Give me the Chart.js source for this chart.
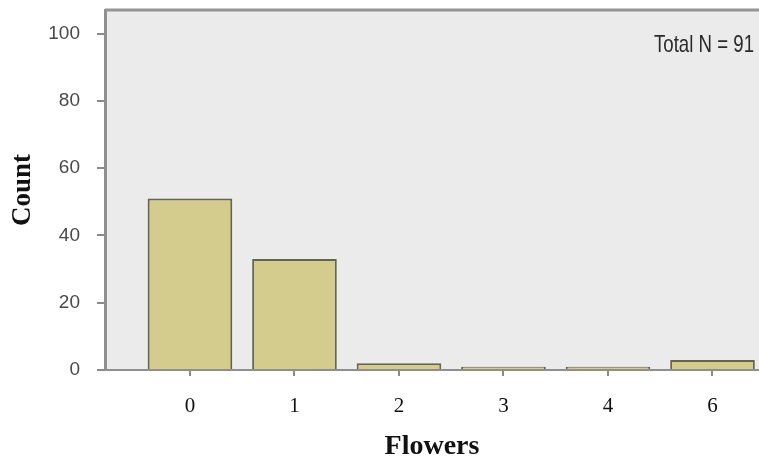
<!DOCTYPE html>
<html>
<head>
<meta charset="utf-8">
<script src="https://cdn.jsdelivr.net/npm/chart.js@4/dist/chart.umd.min.js"></script>
<style>
  html, body { margin: 0; padding: 0; background: #fff; overflow: hidden; }
  canvas { display: block; }
</style>
</head>
<body>
<canvas id="chart" width="759" height="461"></canvas>
<script>
// ---------------------------------------------------------------------------
// Data
// ---------------------------------------------------------------------------
const categories = ['0', '1', '2', '3', '4', '6'];
const counts = [51, 33, 2, 1, 1, 3];
const yTicks = [0, 20, 40, 60, 80, 100];
const totalLabel = 'Total N = 91';

// ---------------------------------------------------------------------------
// Plot frame: grey panel, top rule, "Total N" note
// ---------------------------------------------------------------------------
const framePlugin = {
  id: 'frame',
  beforeDraw(chart) {
    const { ctx, chartArea: a } = chart;
    ctx.save();
    ctx.fillStyle = '#ebebeb';
    ctx.fillRect(a.left, a.top, a.right - a.left, a.bottom - a.top);
    ctx.restore();
  },
  afterDraw(chart) {
    const { ctx, chartArea: a } = chart;
    ctx.save();
    ctx.strokeStyle = '#959595';
    ctx.lineWidth = 3;
    ctx.beginPath();
    ctx.moveTo(a.left, a.top);
    ctx.lineTo(a.right, a.top);
    ctx.stroke();

    // narrow annotation, squeezed like the original
    ctx.font = '24px "Liberation Sans Narrow", "Liberation Sans", sans-serif';
    ctx.fillStyle = '#2a2a2a';
    ctx.textBaseline = 'middle';
    ctx.textAlign = 'left';
    const w = ctx.measureText(totalLabel).width;
    const target = 100;
    ctx.translate(654, 45);
    ctx.scale(target / w, 1);
    ctx.fillText(totalLabel, 0, 0);
    ctx.restore();
  },
};

// ---------------------------------------------------------------------------
// Chart
// ---------------------------------------------------------------------------
new Chart(document.getElementById('chart'), {
  type: 'bar',
  data: {
    datasets: [{
      data: categories.map((c, i) => ({ x: i, y: counts[i] })),
      backgroundColor: '#d3cc8d',
      borderColor: '#66644a',
      borderWidth: 2,
      categoryPercentage: 1,
      barPercentage: 0.81,
    }],
  },
  options: {
    responsive: false,
    animation: false,
    devicePixelRatio: 1,
    layout: { padding: { top: 10, right: 0, bottom: 0, left: 0 } },
    plugins: {
      legend: { display: false },
      tooltip: { enabled: false },
    },
    scales: {
      x: {
        type: 'linear',
        offset: false,
        min: -0.813,
        max: 5.445,
        afterBuildTicks: scale => {
          scale.ticks = categories.map((c, i) => ({ value: i }));
        },
        afterFit: scale => {
          scale.height = 91;
          scale.paddingLeft = 0;
          scale.paddingRight = 0;
        },
        ticks: {
          callback: v => categories[v] ?? '',
          font: { family: '"Liberation Serif", serif', size: 21 },
          color: '#111',
          padding: 18,
          autoSkip: false,
          maxRotation: 0,
        },
        grid: { offset: false, drawOnChartArea: false, tickLength: 6, color: '#8a8a8a', lineWidth: 2 },
        border: { color: '#8f8f8f', width: 2 },
        title: {
          display: true,
          text: 'Flowers',
          font: { family: '"Liberation Serif", serif', size: 28, weight: 'bold' },
          color: '#111',
          padding: { top: 0, bottom: -3 },
        },
      },
      y: {
        min: 0,
        max: 107,
        afterBuildTicks: scale => {
          scale.ticks = yTicks.map(v => ({ value: v }));
        },
        afterFit: scale => {
          scale.width = 105;
          scale.paddingTop = 0;
          scale.paddingBottom = 0;
        },
        ticks: {
          font: { family: '"Liberation Sans", sans-serif', size: 19 },
          color: '#4a4a4a',
          padding: 17,
        },
        grid: { drawOnChartArea: false, tickLength: 8, color: '#8a8a8a', lineWidth: 2 },
        border: { color: '#8f8f8f', width: 3 },
        title: {
          display: true,
          text: 'Count',
          font: { family: '"Liberation Serif", serif', size: 27, weight: 'bold' },
          color: '#111',
          padding: { top: 7, bottom: 0 },
        },
      },
    },
  },
  plugins: [framePlugin],
});
</script>
</body>
</html>
